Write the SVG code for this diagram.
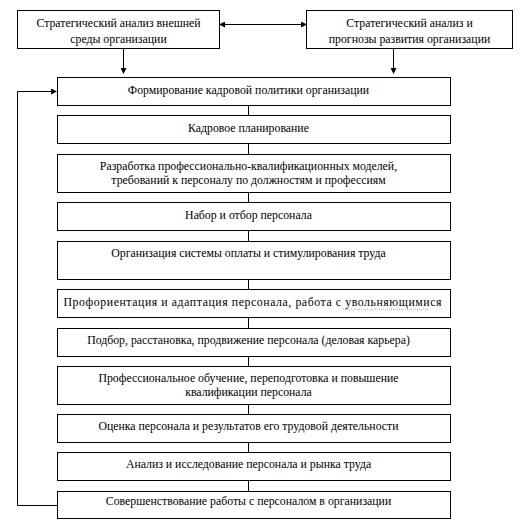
<svg xmlns="http://www.w3.org/2000/svg" width="520" height="528" viewBox="0 0 520 528">
<style>
.box{fill:#fff;stroke:#000;stroke-width:1}
.c{fill:none;stroke:#000;stroke-width:1}
.t{font-family:'Liberation Serif','Times New Roman',serif;font-size:11.8px;fill:#000;text-anchor:middle}
</style>
<defs>
<marker id="ah" markerWidth="6" markerHeight="6" refX="5" refY="3" orient="auto" markerUnits="userSpaceOnUse">
<path d="M0,0 L6,3 L0,6 Z" fill="#000"/>
</marker>
<marker id="as" markerWidth="6" markerHeight="6" refX="1" refY="3" orient="auto" markerUnits="userSpaceOnUse">
<path d="M6,0 L0,3 L6,6 Z" fill="#000"/>
</marker>
</defs>
<rect width="520" height="528" fill="#fff"/>
<g id="connectors">
<line class="c" x1="220" y1="24.5" x2="306" y2="24.5" marker-start="url(#as)" marker-end="url(#ah)"/>
<line class="c" x1="123.5" y1="49" x2="123.5" y2="73" marker-end="url(#ah)"/>
<line class="c" x1="393.5" y1="49" x2="393.5" y2="73" marker-end="url(#ah)"/>
<line class="c" x1="248.5" y1="105" x2="248.5" y2="115"/>
<line class="c" x1="248.5" y1="144" x2="248.5" y2="154"/>
<line class="c" x1="248.5" y1="192" x2="248.5" y2="202"/>
<line class="c" x1="248.5" y1="231" x2="248.5" y2="241"/>
<line class="c" x1="248.5" y1="279" x2="248.5" y2="289"/>
<line class="c" x1="248.5" y1="317" x2="248.5" y2="328"/>
<line class="c" x1="248.5" y1="356" x2="248.5" y2="366"/>
<line class="c" x1="248.5" y1="404" x2="248.5" y2="414"/>
<line class="c" x1="248.5" y1="442" x2="248.5" y2="452"/>
<line class="c" x1="248.5" y1="480" x2="248.5" y2="491"/>
<polyline class="c" points="57,505.5 17.5,505.5 17.5,91.5 56,91.5" marker-end="url(#ah)"/>
</g>
<g id="n_ext">
<rect class="box" x="17.5" y="10.5" width="202" height="38"/>
<text class="t" x="118.5" y="27">Стратегический анализ внешней</text>
<text class="t" x="118.5" y="43">среды организации</text>
</g>
<g id="n_prog">
<rect class="box" x="306.5" y="10.5" width="206" height="38"/>
<text class="t" x="409.5" y="27">Стратегический анализ и</text>
<text class="t" x="409.5" y="43">прогнозы развития организации</text>
</g>
<g id="n1">
<rect class="box" x="57.5" y="77.5" width="393" height="28"/>
<text class="t" x="248.5" y="94">Формирование кадровой политики организации</text>
</g>
<g id="n2">
<rect class="box" x="57.5" y="115.5" width="393" height="28"/>
<text class="t" x="248.5" y="132">Кадровое планирование</text>
</g>
<g id="n3">
<rect class="box" x="57.5" y="154.5" width="393" height="38"/>
<text class="t" x="248.5" y="170">Разработка профессионально-квалификационных моделей,</text>
<text class="t" x="248.5" y="184">требований к персоналу по должностям и профессиям</text>
</g>
<g id="n4">
<rect class="box" x="57.5" y="202.5" width="393" height="28"/>
<text class="t" x="248.5" y="219">Набор и отбор персонала</text>
</g>
<g id="n5">
<rect class="box" x="57.5" y="241.5" width="393" height="38"/>
<text class="t" x="248.5" y="257">Организация системы оплаты и стимулирования труда</text>
</g>
<g id="n6">
<rect class="box" x="57.5" y="289.5" width="393" height="28"/>
<text class="t" x="252.5" y="306" textLength="378" lengthAdjust="spacing">Профориентация и адаптация персонала, работа с увольняющимися</text>
<path d="M343,309.5 q1,-1 2,0 t2,0 t2,0 t2,0 t2,0 t2,0 t2,0 t2,0 t2,0 t2,0 t2,0 t2,0 t2,0 t2,0 t2,0 t2,0 t2,0 t2,0 t2,0 t2,0 t2,0 t2,0 t2,0 t2,0 t2,0 t2,0 t2,0 t2,0 t2,0 t2,0 t2,0 t2,0 t2,0 t2,0 t2,0 t2,0 t2,0 t2,0 t2,0 t2,0 t2,0 t2,0 t2,0" fill="none" stroke="#6a9955" stroke-width="0.8" stroke-dasharray="1,1"/>
</g>
<g id="n7">
<rect class="box" x="57.5" y="328.5" width="393" height="28"/>
<text class="t" x="248.5" y="344">Подбор, расстановка, продвижение персонала (деловая карьера)</text>
</g>
<g id="n8">
<rect class="box" x="57.5" y="366.5" width="393" height="38"/>
<text class="t" x="248.5" y="382">Профессиональное обучение, переподготовка и повышение</text>
<text class="t" x="248.5" y="396">квалификации персонала</text>
</g>
<g id="n9">
<rect class="box" x="57.5" y="414.5" width="393" height="28"/>
<text class="t" x="248.5" y="430">Оценка персонала и результатов его трудовой деятельности</text>
</g>
<g id="n10">
<rect class="box" x="57.5" y="452.5" width="393" height="28"/>
<text class="t" x="248.5" y="468">Анализ и исследование персонала и рынка труда</text>
</g>
<g id="n11">
<rect class="box" x="57.5" y="491.5" width="393" height="27"/>
<text class="t" x="248.5" y="505">Совершенствование работы с персоналом в организации</text>
</g>
</svg>
